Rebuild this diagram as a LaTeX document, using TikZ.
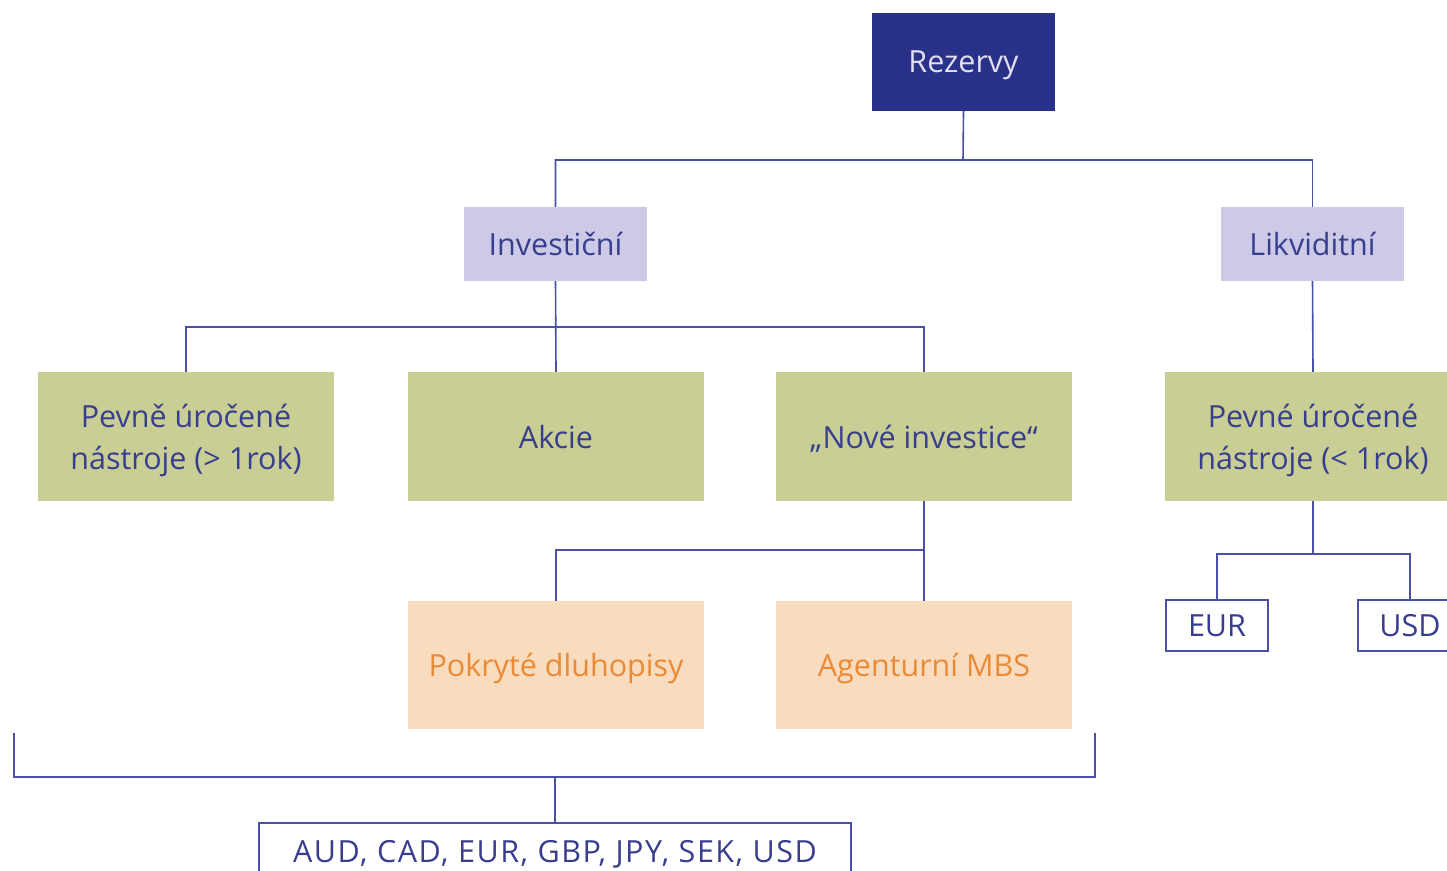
\documentclass[tikz,border=0pt]{standalone}
\usepackage{fontspec}
\setmainfont{Open Sans}
\usetikzlibrary{positioning}
\definecolor{rezblue}{HTML}{2A3189}
\definecolor{lineblue}{HTML}{4A50A6}
\definecolor{txtblue}{HTML}{383E8E}
\definecolor{lavender}{HTML}{CDCAE8}
\definecolor{olive}{HTML}{C8CE94}
\definecolor{peach}{HTML}{F9DBBE}
\definecolor{orangetxt}{HTML}{E98B36}
\tikzset{
  box/.style={inner sep=0pt, align=center, text=txtblue, text depth=0pt,
    font=\fontsize{30.5}{42}\selectfont},
  topbox/.style={box, fill=rezblue, text=lavender!60!white,
    minimum width=183pt, minimum height=98pt},
  midbox/.style={box, fill=lavender, minimum width=183pt, minimum height=74pt},
  greenbox/.style={box, fill=olive, minimum width=296pt, minimum height=129pt},
  orangebox/.style={box, fill=peach, text=orangetxt,
    minimum width=296pt, minimum height=128pt},
  curbox/.style={box, draw=lineblue, line width=1.4pt, fill=white,
    minimum height=51pt},
  link/.style={draw=lineblue, line width=1.6pt}
}
\begin{document}
\begin{tikzpicture}[x=1pt,y=-1pt]

  \useasboundingbox (0,0) rectangle (1447,870);

  % levels
  \newcommand\LA{160}
  \newcommand\LB{327}
  \newcommand\LC{550}
  \newcommand\LD{554}

  \node[topbox] (rez) at (963.5,62) {Rezervy};

  \node[midbox] (inv) at (555.5,244) {Investiční};
  \node[midbox] (lik) at (1312.5,244) {Likviditní};

  \node[greenbox] (pevdl) at (186,436.5) {Pevně úročené\\nástroje (> 1rok)};
  \node[greenbox] (akcie) at (556,436.5) {Akcie};
  \node[greenbox] (nove) at (924,436.5) {„Nové investice“};
  \node[greenbox] (pevkr) at (1313,436.5) {Pevné úročené\\nástroje (< 1rok)};

  \node[orangebox] (pokr) at (556,665) {Pokryté dluhopisy};
  \node[orangebox] (agen) at (924,665) {Agenturní MBS};

  \node[curbox, minimum width=102pt] (eur) at (1217,625.5) {EUR};
  \node[curbox, minimum width=104pt] (usd) at (1410,625.5) {USD};

  \node[curbox, minimum width=592pt, minimum height=56pt] (meny) at (555,851)
    {\addfontfeature{LetterSpace=5}AUD, CAD, EUR, GBP, JPY, SEK, USD};

  % bracket
  \coordinate (brl) at (14,733);
  \coordinate (brr) at (1095,733);
  \coordinate (brm) at (555,777);

  % Rezervy
  \draw[link] (rez.south) -- (963,\LA) -| (inv.north);
  \draw[link] (963,\LA) -| (lik.north);

  % Investicni
  \draw[link] (inv.south) -- (akcie.north);
  \draw[link] (556,\LB) -| (pevdl.north);
  \draw[link] (556,\LB) -| (nove.north);

  % Likviditni
  \draw[link] (lik.south) -- (pevkr.north);
  \draw[link] (pevkr.south) -- (1313,\LD) -| (eur.north);
  \draw[link] (1313,\LD) -| (usd.north);

  % Nove investice
  \draw[link] (nove.south) -- (924,\LC) -| (pokr.north);
  \draw[link] (nove.south) -- (agen.north);

  \draw[link] (brl) |- (brm) -| (brr);
  \draw[link] (brm) -- (meny.north);

\end{tikzpicture}
\end{document}
